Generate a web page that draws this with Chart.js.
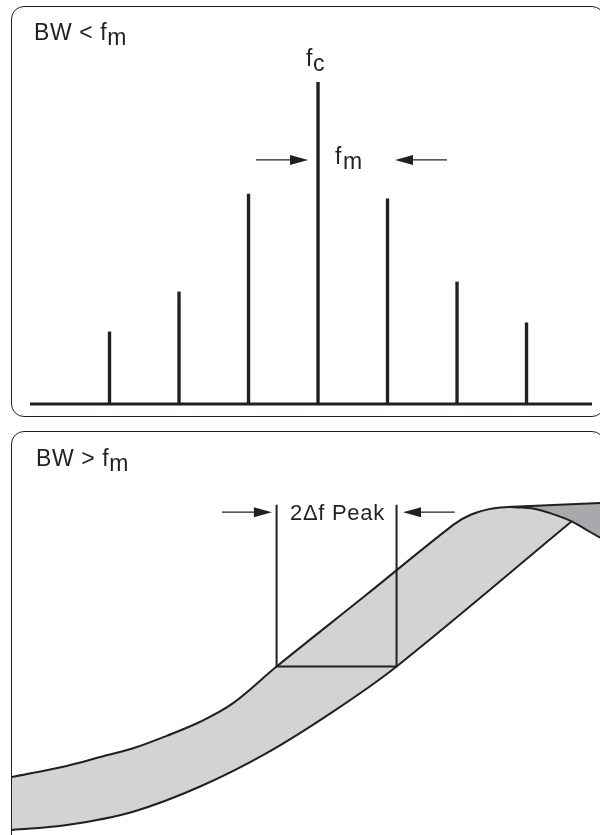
<!DOCTYPE html>
<html><head><meta charset="utf-8">
<script src="https://cdn.jsdelivr.net/npm/chart.js@4.4.1/dist/chart.umd.min.js"></script>
<style>
html,body{margin:0;padding:0;background:#fff;}
body{width:600px;height:835px;position:relative;overflow:hidden;font-family:"Liberation Sans",Arial,sans-serif;color:#231f20;}
.frame{position:absolute;border:1.5px solid #231f20;border-radius:13px;box-sizing:border-box;}
.lbl{position:absolute;white-space:pre;line-height:1;}
.sub{position:relative;top:5px;}
canvas{position:absolute;left:0;}
</style></head><body>
<div class="frame" style="left:10.5px;top:5.5px;width:594px;height:411px"></div>
<div class="frame" style="left:10.5px;top:431px;width:594px;height:430px"></div>
<canvas id="top" width="600" height="420" style="top:0"></canvas>
<canvas id="bot" width="600" height="415" style="top:420px"></canvas>
<div class="lbl" style="left:34px;top:20.5px;font-size:23px;letter-spacing:0.6px">BW &lt; f<span class="sub">m</span></div>
<div class="lbl" style="left:306px;top:47px;font-size:23px;letter-spacing:0.5px">f<span class="sub">c</span></div>
<div class="lbl" style="left:335px;top:144.5px;font-size:23px;letter-spacing:1.5px">f<span class="sub">m</span></div>
<div class="lbl" style="left:36px;top:447px;font-size:23px;letter-spacing:0.6px">BW &gt; f<span class="sub">m</span></div>
<div class="lbl" style="left:290px;top:502px;font-size:22px;letter-spacing:0.7px">2Δf Peak</div>
<script>
// ---------- top panel data (BW < fm): discrete spectral lines ----------
const sidebandOrder = [-3, -2, -1, 0, 1, 2, 3];
const lineAmplitude = [0.224, 0.348, 0.652, 1.0, 0.637, 0.379, 0.252];
const topXMin = -4.144, topXMax = 3.942;
const topArrowFrom = [-0.892, 1.856];
const topArrowTo = [-0.144, 1.108];
const topArrowLevel = 0.758;

// ---------- bottom panel data (BW > fm): swept response band ----------
const leftRespX = [0, 9.3, 15.0, 20.6, 26.3, 32.0, 37.6, 45.0, 60.1, 75.1, 78.0, 81.3, 84.5, 88.1, 100];
const leftRespY = [16.2, 19.6, 22.3, 25.0, 28.8, 33.1, 38.8, 50.0, 71.7, 93.4, 96.4, 98.2, 98.8, 99.1, 100.0];
const peakIdx = 12; // last point of the rising response before the flat peak trace
const fallX = [84.5, 85.5, 88.6, 91.5, 95.2, 97.4, 100];
const fallY = [98.8, 98.7, 98.3, 96.9, 94.4, 92.1, 89.4];
const crossIdx = 4;
const rightRespX = [0, 9.3, 20.6, 32.0, 43.3, 54.6, 65.4, 95.2];
const rightRespY = [0, 1.5, 5.6, 13.3, 23.5, 36.2, 50.0, 94.4];
const markLow = 45.0, markHigh = 65.4, markLevel = 50.0, markTop = 99.5;
const botArrowFrom = [35.7, 75.3];
const botArrowTo = [44.2, 66.5];
const botArrowLevel = 97.2;

const INK = '#231f20', LIGHT = '#d1d3d4', DARK = '#a7a9ac';
const pts = (xs, ys) => xs.map((x, i) => ({x, y: ys[i]}));

const arrowPlugin = {
  id: 'arrows',
  afterDatasetsDraw(chart, args, opts) {
    const {ctx, scales: {x, y}} = chart;
    opts.from.forEach((f, i) => {
      const x0 = x.getPixelForValue(f), x1 = x.getPixelForValue(opts.to[i]), py = y.getPixelForValue(opts.level);
      const dir = Math.sign(x1 - x0), h = opts.head, hw = opts.halfWidth;
      ctx.save();
      ctx.strokeStyle = INK; ctx.fillStyle = INK; ctx.lineWidth = 1.4;
      ctx.beginPath(); ctx.moveTo(x0, py); ctx.lineTo(x1 - dir * h, py); ctx.stroke();
      ctx.beginPath(); ctx.moveTo(x1, py); ctx.lineTo(x1 - dir * h, py - hw); ctx.lineTo(x1 - dir * h, py + hw); ctx.closePath(); ctx.fill();
      ctx.restore();
    });
  }
};

Chart.defaults.animation = false;
Chart.defaults.responsive = false;
Chart.defaults.devicePixelRatio = 1;

new Chart(document.getElementById('top'), {
  type: 'bar',
  data: {
    datasets: [
      {type: 'bar', data: pts(sidebandOrder, lineAmplitude), backgroundColor: INK, barThickness: 2.7, borderWidth: 0, order: 2},
      {type: 'line', data: [{x: topXMin, y: 0}, {x: topXMax, y: 0}], borderColor: INK, borderWidth: 3, pointRadius: 0, clip: false, order: 1}
    ]
  },
  options: {
    layout: {padding: {left: 30, right: 8, top: 82, bottom: 16}, autoPadding: false},
    scales: {
      x: {type: 'linear', min: topXMin, max: topXMax, offset: false, display: false},
      y: {type: 'linear', min: 0, max: 1, display: false}
    },
    plugins: {legend: {display: false}, tooltip: {enabled: false},
      arrows: {from: topArrowFrom, to: topArrowTo, level: topArrowLevel, head: 18, halfWidth: 5}}
  },
  plugins: [arrowPlugin]
});

const lightUpper = pts(leftRespX.slice(0, peakIdx + 1), leftRespY.slice(0, peakIdx + 1))
  .concat(pts(fallX.slice(1, crossIdx + 1), fallY.slice(1, crossIdx + 1)));
const peakTrace = pts(leftRespX.slice(peakIdx), leftRespY.slice(peakIdx));
const curve = {pointRadius: 0, tension: 0.35, clip: false};

new Chart(document.getElementById('bot'), {
  type: 'line',
  data: {
    datasets: [
      {...curve, data: lightUpper, borderWidth: 0, borderColor: 'rgba(0,0,0,0)', backgroundColor: LIGHT, fill: 1, order: 10},
      {...curve, data: pts(rightRespX, rightRespY), borderColor: INK, borderWidth: 2, fill: false, order: 2},
      {...curve, data: peakTrace, borderWidth: 0, borderColor: 'rgba(0,0,0,0)', backgroundColor: DARK, fill: 4, order: 9},
      {...curve, data: pts(leftRespX, leftRespY), borderColor: INK, borderWidth: 2, fill: false, order: 2},
      {...curve, data: pts(fallX, fallY), borderColor: INK, borderWidth: 2, fill: false, order: 2},
      {data: [{x: markLow, y: markTop}, {x: markLow, y: markLevel}, {x: markHigh, y: markLevel}, {x: markHigh, y: markTop}], borderColor: INK, borderWidth: 2, pointRadius: 0, fill: false, tension: 0, clip: false, order: 1}
    ]
  },
  options: {
    layout: {padding: {left: 12, right: 0, top: 83, bottom: 5}, autoPadding: false},
    scales: {
      x: {type: 'linear', min: 0, max: 100, display: false},
      y: {type: 'linear', min: 0, max: 100, display: false}
    },
    plugins: {legend: {display: false}, tooltip: {enabled: false},
      arrows: {from: botArrowFrom, to: botArrowTo, level: botArrowLevel, head: 18, halfWidth: 5}}
  },
  plugins: [arrowPlugin]
});
</script>
</body></html>
